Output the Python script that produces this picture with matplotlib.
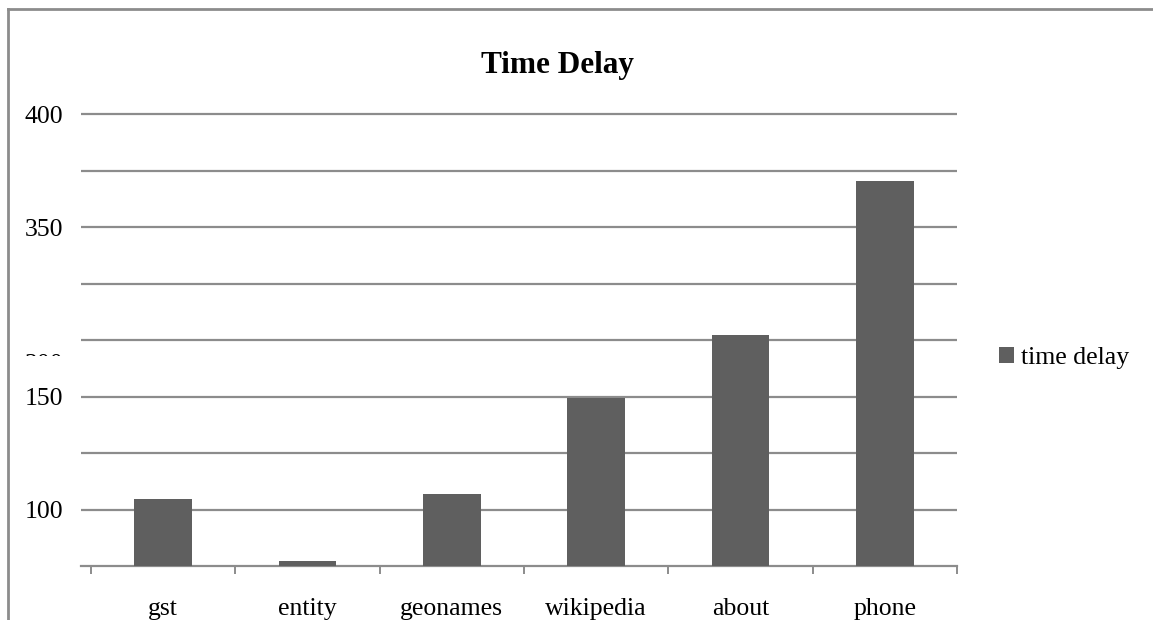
import matplotlib
matplotlib.use('Agg')
import matplotlib.pyplot as plt
from matplotlib.lines import Line2D
from matplotlib.patches import Patch
from matplotlib.transforms import Bbox

plt.rcParams['font.family'] = ['Liberation Serif', 'DejaVu Serif']

categories = ['gst', 'entity', 'geonames', 'wikipedia', 'about', 'phone']
time_delay = [59, 4, 64, 149, 204, 341]

# y tick labels as they appear on the axis
label_pos = [50, 150, 300, 400]
label_txt = ['100', '150', '350', '400']
hidden_pos = 178
hidden_txt = '300'

bar_color = '#5f5f5f'
line_color = '#8c8c8c'

W, H = 1153, 620
px_per_unit = (566 - 114) / 400
ytop = 405
fig = plt.figure(figsize=(W / 100, H / 100), dpi=100)
ax = fig.add_axes([81 / W, 54 / H, (957 - 81) / W, ytop * px_per_unit / H])

x = list(range(len(categories)))
ax.bar(x, time_delay, width=0.4, color=bar_color, zorder=3)

ax.set_xlim(-0.569, len(categories) - 0.5)
ax.set_ylim(0, ytop)

for s in ['top', 'right', 'left']:
    ax.spines[s].set_visible(False)
ax.spines['bottom'].set_color(line_color)
ax.spines['bottom'].set_linewidth(1.6)

# category labels centred, boundary ticks below the axis
ax.set_xticks(x)
ax.set_xticklabels(categories, fontsize=18.5)
ax.set_xticks([i - 0.5 for i in range(len(categories) + 1)], minor=True)
ax.tick_params(axis='x', which='major', length=0, pad=23)
ax.tick_params(axis='x', which='minor', length=6, width=1.4, color=line_color)

ax.set_yticks(range(50, 401, 50), minor=True)
ax.set_yticks(label_pos)
ax.set_yticklabels(label_txt, fontsize=18.5)
ax.tick_params(axis='y', which='both', length=0, pad=13)
ax.grid(axis='y', which='both', color=line_color, linewidth=1.6, zorder=0)

# partly hidden label: only its top edge shows
ytxt = ax.transData.transform((0, hidden_pos))[1]
t = fig.text(63 / W, ytxt / H, hidden_txt, fontsize=18.5, ha='right', va='center')
t.set_clip_box(Bbox.from_extents(0, H - 356, 80, H - 340))
t.set_clip_on(True)

fig.text(557 / W, (H - 66) / H, 'Time Delay', fontsize=22.5, fontweight='bold',
         ha='center', va='center')

handles = [Patch(facecolor=bar_color, edgecolor='none', label='time delay')]
fig.legend(handles=handles, loc='center left', bbox_to_anchor=(999 / W, (H - 358) / H),
           frameon=False, fontsize=18.5, handlelength=0.6, handleheight=0.6,
           handletextpad=0.25, borderpad=0, borderaxespad=0)

# outer frame (only top and left edges visible)
fig.add_artist(Line2D([8 / W, 1], [(H - 9) / H, (H - 9) / H], color=line_color, linewidth=2,
                      transform=fig.transFigure))
fig.add_artist(Line2D([8 / W, 8 / W], [0, (H - 9) / H], color=line_color, linewidth=2,
                      transform=fig.transFigure))

fig.savefig('out.png', dpi=100)
